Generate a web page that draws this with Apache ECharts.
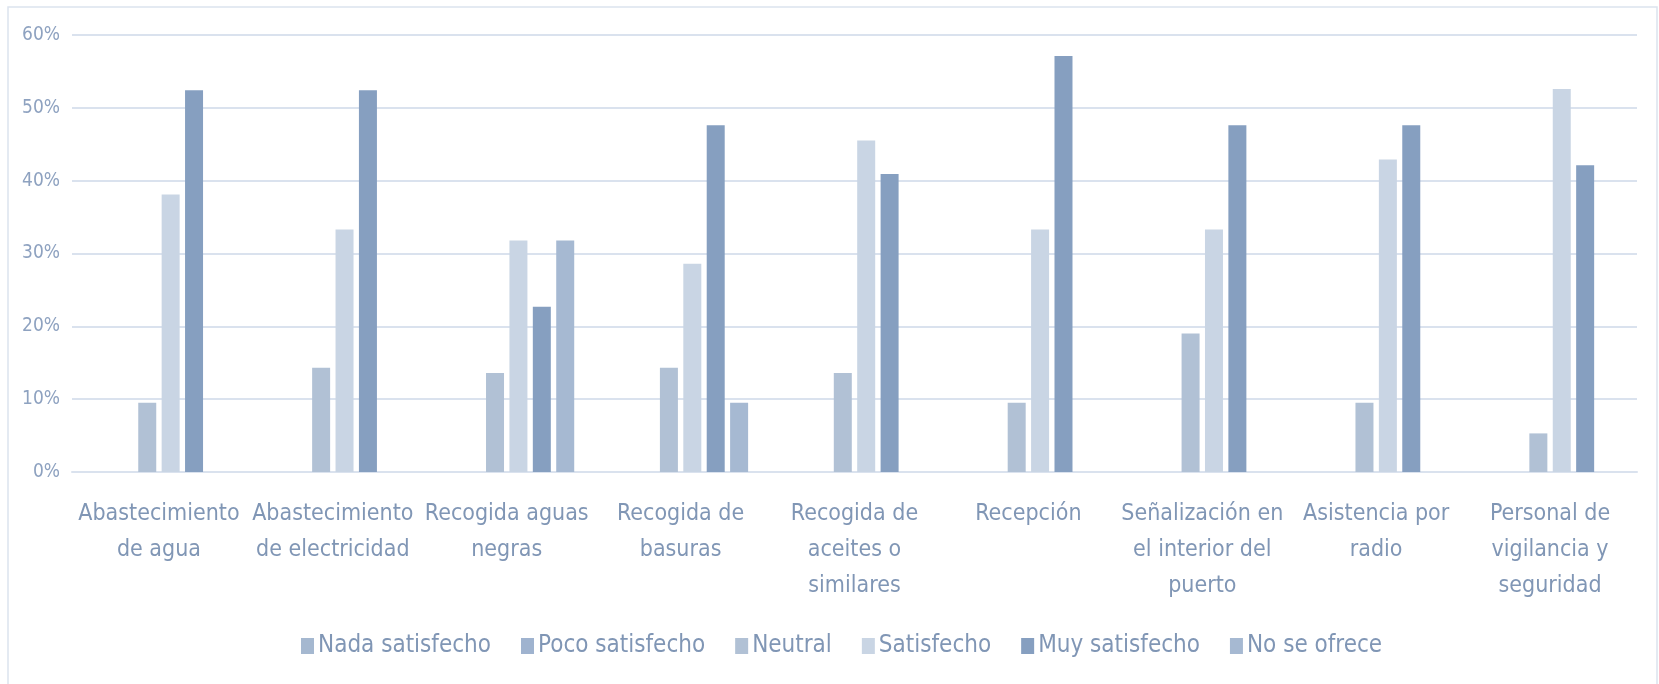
<!DOCTYPE html>
<html>
<head>
<meta charset="utf-8">
<script src="https://cdn.jsdelivr.net/npm/echarts@6/dist/echarts.min.js"></script>
<style>
html,body{margin:0;padding:0;background:#fff;}
#c{width:1659px;height:684px;}
</style>
</head>
<body>
<div id="c"></div>
<script>
const categories = [
  'Abastecimiento\nde agua',
  'Abastecimiento\nde electricidad',
  'Recogida aguas\nnegras',
  'Recogida de\nbasuras',
  'Recogida de\naceites o\nsimilares',
  'Recepción',
  'Señalización en\nel interior del\npuerto',
  'Asistencia por\nradio',
  'Personal de\nvigilancia y\nseguridad'
];
const seriesNames = ['Nada satisfecho', 'Poco satisfecho', 'Neutral', 'Satisfecho', 'Muy satisfecho', 'No se ofrece'];
const nadaSatisfecho = [0, 0, 0, 0, 0, 0, 0, 0, 0];
const pocoSatisfecho = [0, 0, 0, 0, 0, 0, 0, 0, 0];
const neutral = [9.5, 14.3, 13.6, 14.3, 13.6, 9.5, 19.0, 9.5, 5.3];
const satisfecho = [38.1, 33.3, 31.8, 28.6, 45.5, 33.3, 33.3, 42.9, 52.6];
const muySatisfecho = [52.4, 52.4, 22.7, 47.6, 40.9, 57.1, 47.6, 47.6, 42.1];
const noSeOfrece = [0, 0, 31.8, 9.5, 0, 0, 0, 0, 0];
const yTicks = [0, 10, 20, 30, 40, 50, 60];

const seriesData = [nadaSatisfecho, pocoSatisfecho, neutral, satisfecho, muySatisfecho, noSeOfrece];
const colors = ['#a5b8d0', '#9fb3cf', '#b1c1d5', '#c9d5e4', '#869fc0', '#a6b9d2'];
const FONT = "'Liberation Sans Narrow', 'DejaVu Sans Condensed', sans-serif";
const textColor = '#8096b5';

const chart = echarts.init(document.getElementById('c'), null, {renderer: 'canvas'});
chart.setOption({
  animation: false,
  color: colors,
  graphic: [{
    type: 'rect',
    shape: {x: 8, y: 7, width: 1649, height: 700},
    style: {fill: 'none', stroke: '#dce3ee', lineWidth: 1.5},
    silent: true
  }],
  grid: {left: 72, right: 22, top: 35, bottom: 212, containLabel: false},
  legend: {
    data: seriesNames,
    bottom: 21,
    left: 296,
    itemWidth: 13,
    itemHeight: 16,
    itemGap: 30,
    icon: 'rect',
    textStyle: {color: textColor, fontSize: 24, fontFamily: FONT, padding: [0, 0, 0, -1]}
  },
  xAxis: {
    type: 'category',
    data: categories,
    axisLine: {show: true, lineStyle: {color: '#dae2ee', width: 2}},
    axisTick: {show: false},
    axisLabel: {color: textColor, fontSize: 23, fontFamily: FONT, lineHeight: 36, margin: 24, interval: 0}
  },
  yAxis: {
    type: 'value',
    min: yTicks[0],
    max: yTicks[yTicks.length - 1],
    interval: 10,
    axisLine: {show: false},
    axisTick: {show: false},
    splitLine: {lineStyle: {color: '#dae2ee', width: 2}},
    axisLabel: {color: '#8ea2c0', fontSize: 19, fontFamily: FONT, margin: 12, formatter: v => v + '%'}
  },
  series: seriesData.map((d, i) => ({
    name: seriesNames[i],
    type: 'bar',
    data: d,
    barWidth: 18,
    barGap: '30%',
    itemStyle: {color: colors[i]}
  }))
});
</script>
</body>
</html>
